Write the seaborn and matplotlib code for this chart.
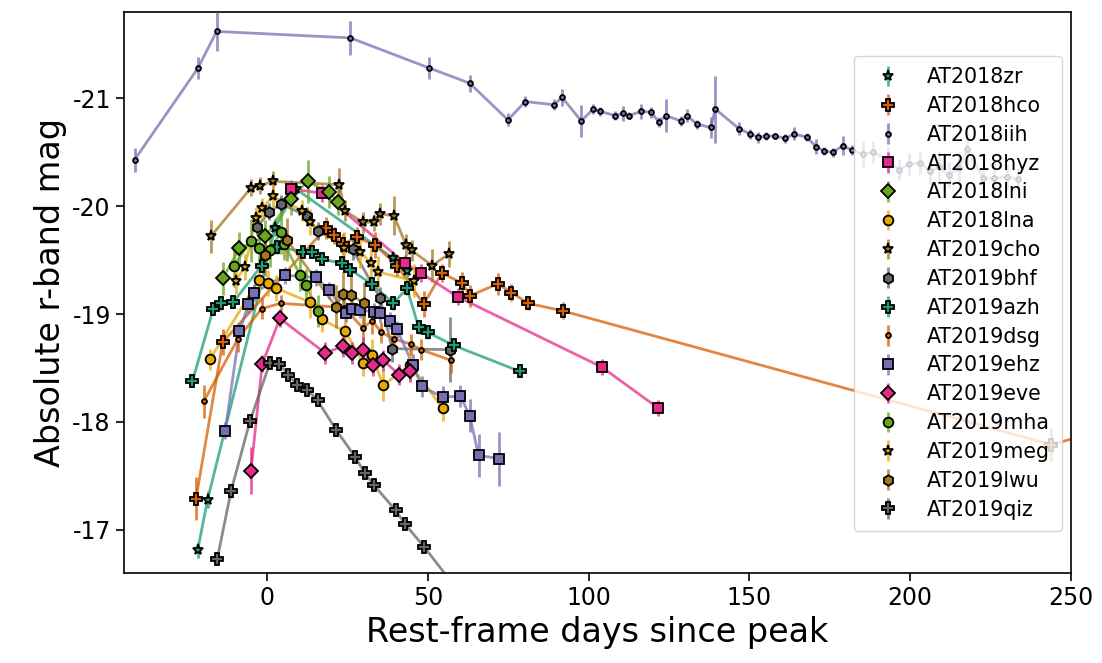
import numpy as np
import pandas as pd
import seaborn as sns
import matplotlib
matplotlib.use('Agg')
import matplotlib.pyplot as plt
from matplotlib.colors import to_rgba

plt.rcParams['axes.unicode_minus'] = False

# light curves: rest-frame days, absolute r mag, error
zr_t = [-21.6, -18.5, 2.5, 9.0, 39.1, 43.5]
zr_m = [-16.81, -17.28, -19.80, -20.16, -19.52, -19.40]
zr_e = [0.07, 0.08, 0.08, 0.06, 0.06, 0.07]

hco_t = [-22.1, -13.8, 18.4, 20.7, 23.6, 27.9, 33.6, 40.4, 48.7, 54.3, 60.5, 63.1, 71.7, 76.0, 81.2, 91.9, 243.9, 275.0]
hco_m = [-17.29, -18.74, -19.80, -19.73, -19.65, -19.71, -19.64, -19.45, -19.09, -19.38, -19.29, -19.17, -19.28, -19.20, -19.10, -19.03, -17.79, -18.05]
hco_e = [0.2, 0.12, 0.1, 0.08, 0.1, 0.1, 0.12, 0.1, 0.12, 0.08, 0.1, 0.1, 0.1, 0.08, 0.06, 0.08, 0.15, 0.15]

iih_t = [-41.2, -21.5, -15.7, 25.9, 50.5, 63.0, 74.9, 80.3, 89.3, 91.7, 97.7, 101.4, 103.4, 108.2, 110.6, 112.6,
         116.4, 119.4, 121.9, 124.0, 128.7, 130.5, 133.7, 137.9, 139.4, 146.7, 150.2, 152.8, 155.1, 157.8, 161.2,
         163.8, 167.8, 170.8, 173.3, 175.9, 179.0, 181.9, 185.2, 188.5, 193.0, 196.4, 199.7, 203.1, 206.0, 209.0,
         211.9, 215.3, 217.8, 222.6, 226.2, 230.2, 233.5]
iih_m = [-20.43, -21.28, -21.62, -21.56, -21.28, -21.14, -20.80, -20.97, -20.94, -21.01, -20.79, -20.90, -20.88,
         -20.84, -20.86, -20.84, -20.88, -20.87, -20.78, -20.84, -20.79, -20.84, -20.76, -20.73, -20.90, -20.72,
         -20.67, -20.64, -20.65, -20.65, -20.63, -20.67, -20.64, -20.55, -20.51, -20.50, -20.56, -20.52, -20.48,
         -20.50, -20.43, -20.34, -20.39, -20.40, -20.33, -20.36, -20.29, -20.35, -20.53, -20.26, -20.26, -20.27, -20.25]
iih_e = [0.11, 0.1, 0.18, 0.16, 0.1, 0.08, 0.06, 0.05, 0.05, 0.08, 0.15, 0.05, 0.04, 0.04, 0.07, 0.03, 0.07, 0.05,
         0.05, 0.15, 0.05, 0.06, 0.04, 0.1, 0.31, 0.06, 0.05, 0.05, 0.04, 0.03, 0.04, 0.06, 0.04, 0.07, 0.04, 0.04,
         0.09, 0.05, 0.12, 0.1, 0.12, 0.1, 0.1, 0.1, 0.12, 0.15, 0.12, 0.15, 0.15, 0.12, 0.15, 0.12, 0.1]

hyz_t = [7.4, 17.2, 43.0, 47.9, 59.3, 104.0, 121.6]
hyz_m = [-20.16, -20.12, -19.47, -19.38, -19.16, -18.51, -18.13]
hyz_e = [0.08, 0.08, 0.08, 0.08, 0.08, 0.07, 0.07]

lni_t = [-13.8, -8.6, -0.5, 7.3, 12.6, 19.1, 22.2]
lni_m = [-19.33, -19.61, -19.72, -20.07, -20.23, -20.13, -20.04]
lni_e = [0.15, 0.15, 0.15, 0.15, 0.2, 0.15, 0.12]

lna_t = [-17.8, -2.5, 0.2, 2.8, 13.4, 17.0, 24.3, 29.8, 32.6, 36.1, 44.4, 54.6]
lna_m = [-18.58, -19.32, -19.29, -19.24, -19.11, -18.95, -18.84, -18.55, -18.62, -18.34, -18.53, -18.13]
lna_e = [0.1, 0.12, 0.12, 0.12, 0.15, 0.12, 0.12, 0.12, 0.15, 0.15, 0.15, 0.12]

cho_t = [-17.5, -5.0, -2.2, 1.7, 22.5, 24.1, 29.8, 33.3, 35.2, 39.5, 43.2, 45.0, 51.3, 56.7]
cho_m = [-19.72, -20.17, -20.19, -20.23, -20.20, -19.96, -19.85, -19.85, -19.93, -19.91, -19.64, -19.59, -19.45, -19.56]
cho_e = [0.15, 0.08, 0.08, 0.1, 0.15, 0.1, 0.1, 0.08, 0.1, 0.18, 0.1, 0.1, 0.15, 0.12]

bhf_t = [-3.0, 0.7, 4.4, 12.4, 15.8, 26.6, 35.1, 38.9, 56.8]
bhf_m = [-19.81, -19.95, -20.02, -19.91, -19.77, -19.60, -19.15, -18.68, -18.67]
bhf_e = [0.08, 0.08, 0.08, 0.08, 0.08, 0.1, 0.1, 0.12, 0.3]

azh_t = [-23.2, -16.7, -14.4, -10.5, -1.7, 3.0, 11.2, 13.9, 17.0, 23.3, 25.9, 32.5, 39.3, 43.5, 47.1, 50.0, 58.0, 78.5]
azh_m = [-18.38, -19.05, -19.10, -19.11, -19.45, -19.62, -19.58, -19.58, -19.51, -19.47, -19.41, -19.28, -19.10,
         -19.24, -18.88, -18.83, -18.71, -18.47]
azh_e = [0.05, 0.06, 0.06, 0.05, 0.06, 0.06, 0.05, 0.05, 0.05, 0.05, 0.06, 0.06, 0.06, 0.06, 0.06, 0.06, 0.06, 0.05]

dsg_t = [-19.7, -9.1, -1.7, 4.2, 24.0, 29.8, 32.7, 35.5, 39.5, 44.9, 47.9, 57.3]
dsg_m = [-18.19, -18.77, -19.05, -19.10, -19.06, -18.87, -18.94, -18.83, -18.77, -18.72, -18.67, -18.57]
dsg_e = [0.15, 0.12, 0.1, 0.08, 0.1, 0.12, 0.12, 0.1, 0.12, 0.1, 0.1, 0.12]

ehz_t = [-13.0, -8.6, -5.8, -4.0, 5.6, 15.3, 19.3, 24.5, 26.5, 29.0, 33.1, 35.2, 38.1, 40.4, 45.3, 48.1, 54.6,
         60.1, 63.0, 65.8, 72.2]
ehz_m = [-17.92, -18.84, -19.09, -19.20, -19.36, -19.34, -19.22, -19.01, -19.05, -19.04, -19.02, -19.01, -18.94,
         -18.86, -18.53, -18.33, -18.23, -18.24, -18.06, -17.69, -17.66]
ehz_e = [0.08, 0.08, 0.08, 0.08, 0.08, 0.08, 0.08, 0.08, 0.08, 0.08, 0.08, 0.08, 0.08, 0.08, 0.1, 0.1, 0.1, 0.1,
         0.15, 0.2, 0.25]

eve_t = [-5.0, -1.5, 4.0, 18.0, 23.6, 26.3, 29.8, 32.9, 36.2, 41.0, 44.5]
eve_m = [-17.55, -18.54, -18.96, -18.64, -18.70, -18.64, -18.67, -18.53, -18.57, -18.44, -18.47]
eve_e = [0.22, 0.08, 0.08, 0.1, 0.1, 0.1, 0.12, 0.1, 0.1, 0.1, 0.1]

mha_t = [-10.3, -5.1, -2.5, 0.9, 4.3, 5.4, 10.3, 12.1, 15.8]
mha_m = [-19.45, -19.68, -19.61, -19.59, -19.76, -19.65, -19.36, -19.27, -19.03]
mha_e = [0.2, 0.2, 0.15, 0.15, 0.2, 0.15, 0.15, 0.15, 0.15]

meg_t = [-9.7, -6.9, -3.5, -1.6, 1.9, 11.0, 13.4, 23.8, 29.0, 32.3, 34.5, 45.6]
meg_m = [-19.31, -19.44, -19.89, -19.98, -20.09, -19.96, -19.85, -19.61, -19.58, -19.47, -19.39, -19.31]
meg_e = [0.12, 0.12, 0.1, 0.1, 0.1, 0.1, 0.12, 0.15, 0.15, 0.15, 0.15, 0.15]

lwu_t = [-0.6, 6.1, 21.4, 23.6, 26.0, 30.2]
lwu_m = [-19.55, -19.69, -19.07, -19.19, -19.18, -19.10]
lwu_e = [0.2, 0.2, 0.2, 0.2, 0.2, 0.2]

qiz_t = [-15.5, -11.2, -5.3, 0.9, 3.8, 6.6, 9.4, 12.5, 15.7, 21.4, 27.3, 30.3, 33.1, 40.0, 43.0, 48.9, 58.0, 66.0]
qiz_m = [-16.73, -17.36, -18.01, -18.55, -18.54, -18.44, -18.34, -18.30, -18.20, -17.93, -17.68, -17.53, -17.42,
         -17.18, -17.05, -16.84, -16.49, -16.20]
qiz_e = [0.05, 0.06, 0.05, 0.05, 0.05, 0.05, 0.05, 0.05, 0.05, 0.05, 0.05, 0.05, 0.05, 0.05, 0.05, 0.05, 0.05, 0.05]

names = ['AT2018zr', 'AT2018hco', 'AT2018iih', 'AT2018hyz', 'AT2018lni', 'AT2018lna', 'AT2019cho', 'AT2019bhf',
         'AT2019azh', 'AT2019dsg', 'AT2019ehz', 'AT2019eve', 'AT2019mha', 'AT2019meg', 'AT2019lwu', 'AT2019qiz']
curves = [(zr_t, zr_m, zr_e), (hco_t, hco_m, hco_e), (iih_t, iih_m, iih_e), (hyz_t, hyz_m, hyz_e),
          (lni_t, lni_m, lni_e), (lna_t, lna_m, lna_e), (cho_t, cho_m, cho_e), (bhf_t, bhf_m, bhf_e),
          (azh_t, azh_m, azh_e), (dsg_t, dsg_m, dsg_e), (ehz_t, ehz_m, ehz_e), (eve_t, eve_m, eve_e),
          (mha_t, mha_m, mha_e), (meg_t, meg_m, meg_e), (lwu_t, lwu_m, lwu_e), (qiz_t, qiz_m, qiz_e)]
markers = ['*', 'P', '.', 's', 'D', 'o', '*', 'h', 'P', '.', 's', 'D', 'o', '*', 'h', 'P']
msizes = {'*': 8, 'P': 8, '.': 7, 's': 7, 'D': 7, 'o': 7, 'h': 7.5}

colors = sns.color_palette('Dark2', 8) * 2

fig = plt.figure(figsize=(11.02, 6.63), dpi=100)
ax = fig.add_axes([0.1125, 0.1357, 0.8594, 0.8462])

for i, (name, (t, m, e)) in enumerate(zip(names, curves)):
    c = colors[i]
    df = pd.DataFrame({'t': t, 'm': m})
    sns.lineplot(data=df, x='t', y='m', sort=False, estimator=None, color=c, alpha=0.75,
                 lw=2, ax=ax, legend=False, zorder=2)
    mk = markers[i]
    ax.errorbar(t, m, yerr=e, fmt=mk, ms=msizes[mk], mfc=c, mec='k', mew=1.3,
                ecolor=to_rgba(c, 0.75), elinewidth=2, capsize=0, label=name, zorder=3)

ax.set_xlim(-44.5, 250)
ax.set_ylim(-16.6, -21.8)
ax.set_xticks([0, 50, 100, 150, 200, 250])
ax.set_yticks([-21, -20, -19, -18, -17])
ax.tick_params(labelsize=17, length=6, width=1.2)
for s in ax.spines.values():
    s.set_linewidth(1.2)
ax.set_xlabel('Rest-frame days since peak', fontsize=24)
ax.set_ylabel('Absolute r-band mag', fontsize=24)

ax.legend(loc='upper right', bbox_to_anchor=(0.99, 0.922), borderaxespad=0, fontsize=14.8,
          handletextpad=0.8, labelspacing=0.43, borderpad=0.55, handlelength=2.2)

fig.savefig('out.png', dpi=100)
